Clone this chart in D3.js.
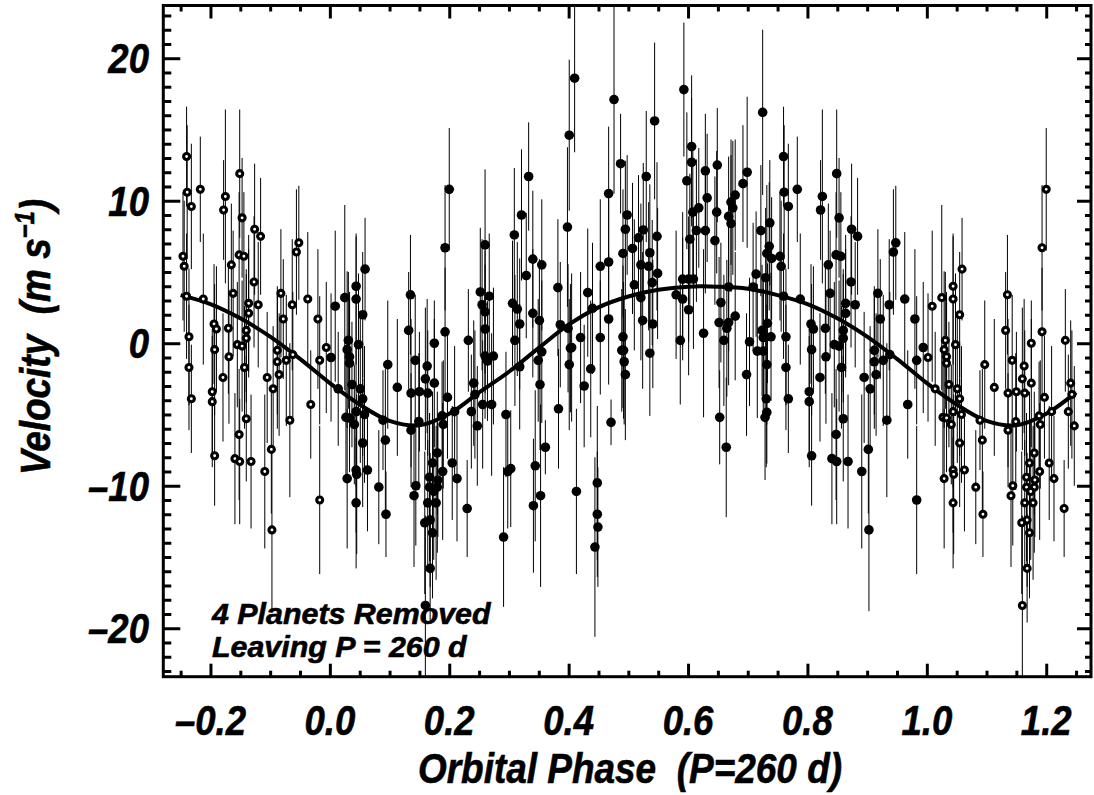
<!DOCTYPE html>
<html>
<head>
<meta charset="utf-8">
<script src="https://cdn.jsdelivr.net/npm/d3@7"></script>
<style>
  html, body { margin: 0; padding: 0; background: #fff; }
  svg { display: block; }
  text { font-family: "Liberation Sans", Arial, Helvetica, sans-serif; font-weight: bold; font-style: italic; fill: #000; stroke: #000; stroke-width: 0.6px; white-space: pre; }
</style>
</head>
<body>
<div id="chart"></div>
<script>
// radial velocity residuals folded on the 260 d period (phase 0..1);
// points outside 0..1 are the same measurements repeated, drawn as open circles
var phase = [
  0.009, 0.025, 0.044, 0.044, 0.059, 0.055, 0.031, 0.048,
  0.135, 0.132, 0.193, 0.200, 0.193, 0.175, 0.232,
  0.002, 0.014, 0.029, 0.033, 0.033, 0.037, 0.051, 0.055,
  0.027, 0.033, 0.044, 0.041, 0.058, 0.055, 0.029, 0.044,
  0.045, 0.063, 0.044, 0.082, 0.094, 0.093, 0.089, 0.097,
  0.113, 0.143, 0.136, 0.150, 0.163, 0.160, 0.164, 0.175,
  0.136, 0.149, 0.144, 0.141, 0.180, 0.172, 0.167, 0.181,
  0.167, 0.180, 0.174, 0.164, 0.178, 0.168, 0.159, 0.172,
  0.168, 0.160, 0.189, 0.205, 0.213, 0.190, 0.188, 0.197,
  0.209, 0.230, 0.237, 0.241, 0.247, 0.243,
  0.256, 0.271, 0.260, 0.274, 0.264, 0.310, 0.318, 0.295,
  0.298, 0.303, 0.291, 0.344, 0.341, 0.353, 0.361, 0.352,
  0.349, 0.355, 0.383, 0.403, 0.405, 0.401, 0.413, 0.426,
  0.437, 0.420, 0.453, 0.448, 0.448, 0.449, 0.444, 0.471,
  0.489, 0.492, 0.493, 0.495, 0.491, 0.536, 0.587, 0.626,
  0.660, 0.653, 0.664, 0.703, 0.698, 0.716, 0.726, 0.726,
  0.739, 0.732, 0.731, 0.732, 0.729,
  0.410, 0.401, 0.476, 0.544, 0.593, 0.725, 0.487, 0.467,
  0.530, 0.333, 0.321, 0.309, 0.260, 0.398, 0.606, 0.606,
  0.598, 0.629, 0.649, 0.632, 0.648, 0.608, 0.618, 0.629,
  0.614, 0.603, 0.645, 0.679, 0.672, 0.675, 0.668, 0.672,
  0.692, 0.699, 0.722, 0.737, 0.736, 0.732, 0.740, 0.714,
  0.730, 0.709, 0.724, 0.733, 0.679, 0.668, 0.665, 0.652,
  0.655, 0.668, 0.591, 0.601, 0.609, 0.580, 0.591, 0.601,
  0.548, 0.549, 0.540, 0.536, 0.534, 0.521, 0.525, 0.517,
  0.507, 0.498, 0.495, 0.491, 0.510, 0.521, 0.524, 0.541,
  0.467, 0.467, 0.453, 0.432, 0.440, 0.382, 0.386, 0.399,
  0.355, 0.340, 0.329, 0.340, 0.351, 0.318, 0.306, 0.314,
  0.252, 0.267, 0.255, 0.260, 0.260,
  0.760, 0.761, 0.768, 0.783, 0.754, 0.756, 0.760, 0.788,
  0.764, 0.825, 0.822, 0.849, 0.853, 0.874, 0.884, 0.848,
  0.856, 0.835, 0.873, 0.838, 0.864, 0.880, 0.864, 0.806,
  0.810, 0.830, 0.860, 0.918, 0.937, 0.922, 0.948, 0.944,
  0.963, 0.980, 0.764, 0.768, 0.807, 0.803, 0.803, 0.807,
  0.821, 0.831, 0.845, 0.853, 0.860, 0.857, 0.848, 0.860,
  0.841, 0.849, 0.868, 0.891, 0.902, 0.903, 0.895, 0.905,
  0.912, 0.912, 0.915, 0.927, 0.938, 0.933, 0.968, 0.983,
  0.983, 0.994
];

var velocity = [
  2.6, 3.2, 4.0, 3.1, 5.2, 2.0, 0.2, -0.1,
  3.4, 0.9, 6.7, 10.8, 0.8, 0.0, 0.2,
  -1.0, -3.2, -0.45, -0.95, -1.4, -2.9, -3.2, -3.9,
  -5.2, -5.25, -4.8, -5.7, -5.0, -7.0, -9.5, -8.9,
  -9.2, -8.9, -11.2, -10.1, -12.0, -6.8, -5.4, -1.5,
  -3.1, -1.2, -3.5, -3.4, -1.6, -2.5, -3.5, -2.8,
  -6.1, -5.5, -10.0, -10.7, -7.7, -8.4, -9.4, -9.6,
  -10.1, -10.1, -10.4, -11.2, -11.2, -12.4, -12.6, -13.3,
  -15.8, -18.4, -9.0, -8.4, -9.5, -5.7, -5.1, -3.8,
  -4.8, -11.6, -4.8, -2.8, -5.8, -3.6,
  -4.3, -4.3, -0.9, -0.9, -1.25, 0.2, -1.65, -5.0,
  -9.0, -8.8, -13.6, -8.6, -11.4, -10.7, -7.3, -2.9,
  -1.2, -0.6, -4.6, -0.35, -0.3, -1.5, -10.4, -3.0,
  -1.8, 0.4, 0.4, -9.8, -12.0, -12.9, -14.3, -5.55,
  -0.5, -0.5, -1.3, -2.2, 0.45, -0.7, 0.2, 0.7,
  0.2, -5.2, -7.3, 0.1, -2.2, -0.55, -0.55, 0.4,
  0.45, -1.5, -3.9, -4.85, -5.2,
  18.6, 14.6, 17.1, 15.6, 17.8, 16.2, 12.6, 10.5,
  11.7, 11.7, 9.0, 7.6, 6.9, 8.15, 13.8, 12.7,
  11.4, 12.1, 12.5, 10.2, 9.2, 9.2, 9.5, 7.9,
  7.9, 7.3, 7.2, 10.4, 9.9, 9.5, 8.9, 8.4,
  11.2, 12.0, 7.9, 8.45, 6.8, 6.3, 5.95, 4.85,
  4.6, 3.95, 0.9, 1.4, 1.9, 1.45, 1.05, 1.45,
  2.85, 3.95, 4.5, 4.5, 4.5, 3.4, 3.1, 2.35,
  7.5, 4.9, 4.25, 6.35, 5.4, 5.5, 7.95, 7.4,
  6.65, 9.0, 8.0, 6.3, 4.1, 3.2, 1.6, 1.35,
  1.7, 5.7, 5.4, 3.55, 2.45, 3.9, 1.3, 1.05,
  5.5, 5.9, 4.75, 2.1, 1.6, 1.35, 2.8, 2.4,
  3.6, 3.3, 2.7, 2.2, 1.0,
  13.1, 10.6, 9.6, 10.8, 6.1, 5.4, 3.3, 3.1,
  0.45, 10.3, 9.35, 11.9, 8.8, 8.0, 7.5, 6.2,
  6.1, 5.5, 4.3, 3.5, 2.8, 2.7, 2.1, 1.35,
  1.0, 1.05, 0.9, 3.5, 2.7, 1.7, 7.05, 6.4,
  3.1, 1.7, -1.7, -3.9, -0.45, -3.4, -4.1, -7.9,
  -2.4, -0.95, -0.1, -0.2, 0.35, -1.7, -6.4, -5.3,
  -8.1, -8.3, -8.3, -9.0, -7.45, -13.1, -2.4, -3.2,
  -0.5, -1.3, -2.2, -1.2, -0.8, -5.4, -4.3, -1.2,
  -11.0, -0.3
];

var sigma = [
  5.3, 6.5, 3.5, 4.6, 3.6, 4.4, 4.8, 5.0,
  4.2, 4.1, 4.4, 4.3, 4.5, 3.0, 3.6,
  4.5, 4.0, 5.5, 4.2, 5.0, 4.4, 5.2, 4.0,
  4.6, 3.8, 5.3, 4.2, 4.8, 4.5, 4.9, 4.4,
  5.6, 4.3, 4.6, 4.0, 3.0, 5.0, 3.5, 4.5,
  4.8, 4.6, 5.2, 4.2, 4.7, 5.0, 4.4, 4.5,
  4.0, 4.8, 4.2, 5.0, 4.3, 5.0, 4.5, 4.0,
  5.2, 4.6, 4.8, 4.4, 5.4, 4.7, 5.0, 4.6,
  3.8, 6.3, 4.8, 4.0, 4.4, 4.5, 3.8, 4.3,
  4.6, 3.4, 4.0, 4.4, 4.2, 4.5,
  4.5, 5.0, 4.4, 4.8, 4.2, 4.6, 4.4, 4.4,
  4.0, 4.1, 4.9, 5.3, 4.7, 6.4, 1.9, 4.6,
  4.3, 5.0, 4.2, 4.5, 5.2, 4.6, 5.8, 4.3,
  4.8, 4.6, 4.0, 5.4, 4.4, 4.2, 6.3, 1.6,
  4.3, 4.8, 4.4, 4.6, 5.0, 4.4, 4.5, 5.9,
  4.6, 3.3, 4.9, 4.5, 4.3, 4.7, 4.4, 4.4,
  4.5, 4.2, 4.8, 3.6, 4.4,
  5.2, 5.3, 6.6, 5.5, 4.7, 5.8, 3.5, 4.7,
  4.6, 3.8, 4.6, 4.7, 5.3, 5.6, 5.0, 4.5,
  4.8, 4.0, 4.0, 4.5, 4.3, 4.6, 4.2, 4.4,
  5.0, 4.6, 4.5, 3.9, 4.4, 4.7, 4.2, 4.8,
  4.1, 5.3, 4.6, 4.4, 4.5, 4.8, 4.3, 4.4,
  4.9, 4.5, 4.6, 4.2, 4.5, 4.4, 4.8, 4.6,
  4.2, 4.5, 4.7, 4.4, 4.9, 4.5, 4.3, 4.6,
  5.2, 4.6, 4.4, 4.8, 4.5, 4.3, 4.7, 4.4,
  4.6, 4.2, 4.8, 4.5, 4.6, 4.4, 4.8, 4.5,
  4.6, 4.4, 4.7, 4.5, 4.6, 4.8, 4.4, 4.5,
  4.6, 4.8, 4.4, 4.5, 4.3, 4.6, 4.4, 4.7,
  4.5, 4.4, 4.6, 4.3, 4.5,
  3.5, 4.7, 4.4, 3.7, 4.5, 4.6, 4.4, 4.6,
  4.8, 6.1, 3.5, 4.5, 4.2, 4.6, 4.1, 4.4,
  4.5, 4.3, 4.6, 4.4, 4.8, 4.4, 4.5, 4.2,
  4.4, 4.6, 4.3, 4.5, 4.6, 4.2, 4.0, 4.4,
  4.7, 4.9, 4.4, 3.8, 4.6, 4.4, 4.6, 3.5,
  4.5, 4.7, 4.4, 4.6, 4.5, 4.3, 4.6, 4.4,
  4.6, 4.4, 4.7, 5.4, 4.5, 5.7, 4.6, 4.4,
  4.5, 4.7, 4.3, 4.6, 4.4, 5.4, 3.8, 4.5,
  5.2, 4.6
];

// fitted orbit (every 0.05 in phase)
var fitPhase = [
  -0.25, -0.20, -0.15, -0.10, -0.05, 0.00, 0.05, 0.10, 0.15, 0.20, 0.25,
  0.30, 0.35, 0.40, 0.45, 0.50, 0.55, 0.60, 0.65, 0.70, 0.75,
  0.80, 0.85, 0.90, 0.95, 1.00, 1.05, 1.10, 1.15, 1.20, 1.25
];
var fitVelocity = [
  3.38, 2.75, 1.75, 0.46, -1.1, -2.8, -4.3, -5.45, -5.76, -4.95, -3.45,
  -2.0, -0.33, 1.3, 2.52, 3.28, 3.75, 3.97, 3.97, 3.83, 3.38,
  2.75, 1.75, 0.46, -1.1, -2.8, -4.3, -5.45, -5.76, -4.95, -3.45
];

var xTicks = [-0.2, 0.0, 0.2, 0.4, 0.6, 0.8, 1.0, 1.2];
var xTickLabels = ['\u20130.2', '0.0', '0.2', '0.4', '0.6', '0.8', '1.0', '1.2'];
var yTicks = [-20, -10, 0, 10, 20];
var yTickLabels = ['\u201320', '\u201310', '0', '10', '20'];

var width = 1094, height = 795;
var frame = { left: 163.3, right: 1091, top: 5.5, bottom: 676.7 };

var x = d3.scaleLinear().domain([-0.279, 1.275]).range([frame.left, frame.right]);
var y = d3.scaleLinear().domain([-23.4, 23.7]).range([frame.bottom, frame.top]);

var svg = d3.select('#chart').append('svg')
  .attr('width', width)
  .attr('height', height);

svg.append('clipPath').attr('id', 'plotArea')
  .append('rect')
    .attr('x', frame.left).attr('y', frame.top)
    .attr('width', frame.right - frame.left)
    .attr('height', frame.bottom - frame.top);

// measured points plus their repeats a cycle away
var points = phase.map(function(p, i) {
  return { p: p, v: velocity[i], e: sigma[i], open: false };
});
var repeats = [];
points.forEach(function(d) {
  if (d.p > 0.75) repeats.push({ p: d.p - 1, v: d.v, e: d.e, open: true });
  if (d.p < 0.25) repeats.push({ p: d.p + 1, v: d.v, e: d.e, open: true });
});
var all = points.concat(repeats);

var plot = svg.append('g').attr('clip-path', 'url(#plotArea)');

plot.append('g').selectAll('line')
  .data(all)
  .enter().append('line')
    .attr('x1', function(d) { return x(d.p); })
    .attr('x2', function(d) { return x(d.p); })
    .attr('y1', function(d) { return y(d.v - d.e); })
    .attr('y2', function(d) { return y(d.v + d.e); })
    .attr('stroke', '#000')
    .attr('stroke-width', 1);

var fit = fitPhase.map(function(p, i) { return { p: p, v: fitVelocity[i] }; });
var line = d3.line()
  .x(function(d) { return x(d.p); })
  .y(function(d) { return y(d.v); })
  .curve(d3.curveCatmullRom.alpha(0.5));

plot.append('path')
  .datum(fit)
  .attr('d', line)
  .attr('fill', 'none')
  .attr('stroke', '#000')
  .attr('stroke-width', 4);

plot.append('g').selectAll('circle')
  .data(points)
  .enter().append('circle')
    .attr('cx', function(d) { return x(d.p); })
    .attr('cy', function(d) { return y(d.v); })
    .attr('r', 4.8)
    .attr('fill', '#000');

plot.append('g').selectAll('circle')
  .data(repeats)
  .enter().append('circle')
    .attr('cx', function(d) { return x(d.p); })
    .attr('cy', function(d) { return y(d.v); })
    .attr('r', 3.0)
    .attr('fill', '#fff')
    .attr('stroke', '#000')
    .attr('stroke-width', 3.1);

// frame and inward ticks on all four sides
var xMinor = d3.range(-0.25, 1.2501, 0.05).filter(function(v) {
  return Math.abs(v * 5 - Math.round(v * 5)) > 1e-6;
});
var yMinor = d3.range(-23, 24, 1).filter(function(v) { return v % 10 !== 0; });

function tickAxis(axis, scale, values, size) {
  return axis(scale).tickValues(values).tickSizeInner(-size).tickSizeOuter(0).tickFormat('');
}

function drawTicks(axis, scale, values, size, transform) {
  var g = svg.append('g').attr('transform', transform)
    .call(tickAxis(axis, scale, values, size));
  g.select('.domain').remove();
  g.selectAll('line').attr('stroke', '#000').attr('stroke-width', 3);
}

var bottomT = 'translate(0,' + frame.bottom + ')';
var topT = 'translate(0,' + frame.top + ')';
var leftT = 'translate(' + frame.left + ',0)';
var rightT = 'translate(' + frame.right + ',0)';

drawTicks(d3.axisBottom, x, xTicks, 13, bottomT);
drawTicks(d3.axisBottom, x, xMinor, 6, bottomT);
drawTicks(d3.axisTop, x, xTicks, 13, topT);
drawTicks(d3.axisTop, x, xMinor, 6, topT);
drawTicks(d3.axisLeft, y, yTicks, 17, leftT);
drawTicks(d3.axisLeft, y, yMinor, 8, leftT);
drawTicks(d3.axisRight, y, yTicks, 14, rightT);
drawTicks(d3.axisRight, y, yMinor, 6, rightT);

svg.append('rect')
  .attr('x', frame.left).attr('y', frame.top)
  .attr('width', frame.right - frame.left)
  .attr('height', frame.bottom - frame.top)
  .attr('fill', 'none')
  .attr('stroke', '#000')
  .attr('stroke-width', 3);

// tick labels
svg.append('g').selectAll('text')
  .data(xTicks)
  .enter().append('text')
    .attr('transform', function(d) { return 'translate(' + x(d) + ',735) scale(0.87,1)'; })
    .attr('text-anchor', 'middle')
    .style('font-size', '42px')
    .text(function(d, i) { return xTickLabels[i]; });

svg.append('g').selectAll('text')
  .data(yTicks)
  .enter().append('text')
    .attr('transform', function(d) { return 'translate(149,' + (y(d) + 15) + ') scale(0.87,1)'; })
    .attr('text-anchor', 'end')
    .style('font-size', '42px')
    .text(function(d, i) { return yTickLabels[i]; });

// axis titles
svg.append('text')
  .attr('transform', 'translate(630,783) scale(0.88,1)')
  .attr('text-anchor', 'middle')
  .style('font-size', '42px')
  .text('Orbital Phase  (P=260 d)');

var yTitle = svg.append('text')
  .attr('transform', 'translate(50,337) rotate(-90) scale(0.88,1)')
  .attr('text-anchor', 'middle')
  .style('font-size', '42px');
yTitle.append('tspan').text('Velocity  (m s');
yTitle.append('tspan').attr('dy', -16).style('font-size', '27px').text('\u22121');
yTitle.append('tspan').attr('dy', 16).text(')');

// annotation
var note = svg.append('g').attr('transform', 'translate(212,0)');
note.append('text')
  .attr('transform', 'translate(0,624) scale(1.03,1)')
  .style('font-size', '29.5px')
  .text('4 Planets Removed');
note.append('text')
  .attr('transform', 'translate(0,657) scale(1.03,1)')
  .style('font-size', '29.5px')
  .text('Leaving P = 260 d');
</script>
</body>
</html>
